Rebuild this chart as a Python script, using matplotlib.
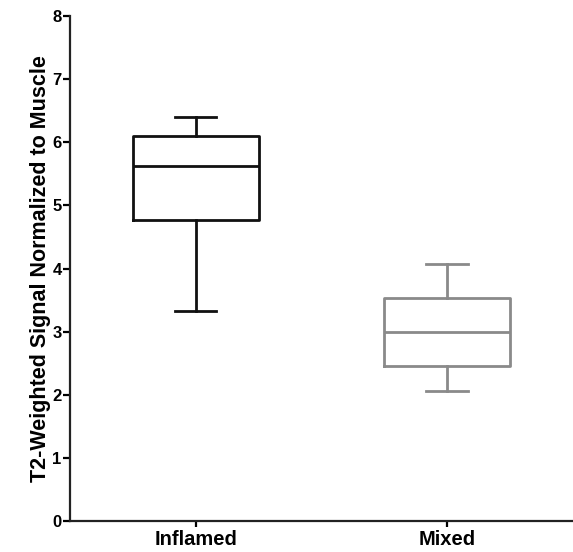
import matplotlib
matplotlib.use("Agg")
import matplotlib.pyplot as plt

# values
groups = ["Inflamed", "Mixed"]
whislo = [3.32, 2.06]
q1 = [4.77, 2.45]
med = [5.63, 3.00]
q3 = [6.10, 3.53]
whishi = [6.40, 4.07]
colors = ["#111111", "#8a8a8a"]
yticks = [0, 1, 2, 3, 4, 5, 6, 7, 8]

plt.rcParams['font.family'] = ['Liberation Sans', 'DejaVu Sans']
plt.rcParams['font.weight'] = 'bold'

fig = plt.figure(figsize=(5.73, 5.52), dpi=100)
ax = fig.add_axes([0.122, 0.056, 0.878, 0.915])

for i, g in enumerate(groups):
    st = [{"label": g, "whislo": whislo[i], "q1": q1[i], "med": med[i],
           "q3": q3[i], "whishi": whishi[i], "fliers": []}]
    c = colors[i]
    lw = 2.0
    ax.bxp(st, positions=[i + 1], widths=0.5, capwidths=0.165,
           showfliers=False, manage_ticks=False,
           boxprops=dict(color=c, linewidth=lw),
           whiskerprops=dict(color=c, linewidth=lw),
           capprops=dict(color=c, linewidth=lw),
           medianprops=dict(color=c, linewidth=lw))

ax.set_xlim(0.5, 2.5)
ax.set_ylim(0, 8)
ax.set_xticks([1, 2])
ax.set_xticklabels(groups, fontsize=14.5, fontweight='bold')
ax.set_yticks(yticks)
ax.set_yticklabels([str(t) for t in yticks], fontsize=12, fontweight='bold')
ax.set_ylabel("T2-Weighted Signal Normalized to Muscle", fontsize=15.5,
              fontweight='bold', labelpad=1)

for s in ["top", "right"]:
    ax.spines[s].set_visible(False)
for s in ["left", "bottom"]:
    ax.spines[s].set_linewidth(1.6)
    ax.spines[s].set_color("#222222")
ax.tick_params(axis='y', length=5, width=1.6, pad=1)
ax.tick_params(axis='x', length=4, width=1.6, pad=2.5)

fig.savefig("out.png", dpi=100)
